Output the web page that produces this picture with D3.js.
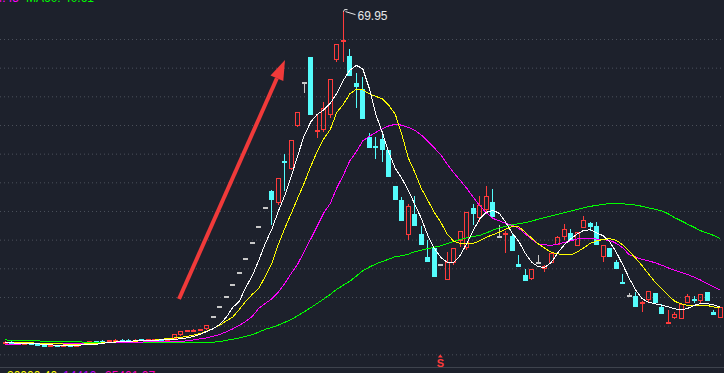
<!DOCTYPE html>
<html>
<head>
<meta charset="utf-8">
<script src="https://cdn.jsdelivr.net/npm/d3@7"></script>
<style>
  html, body { margin: 0; padding: 0; background: #1d212c; overflow: hidden; }
  svg { display: block; }
</style>
</head>
<body>
<div id="chart"></div>
<script>
/*global d3*/

// daily candles (price units)
var opens = [
  12.10, 12.20, 12.05, 11.95, 12.00, 11.80, 11.70, 11.40, 11.55, 11.45,
  11.60, 11.55, 11.70, 11.90, 12.25, 12.40, 12.30, 12.35, 12.55, 12.50,
  12.45, 12.65, 12.55, 12.55, 12.70, 12.60, 12.70, 13.30, 14.10, 14.15,
  14.22, 14.35, 16.56, 18.21, 20.03, 22.04, 24.24, 26.66, 29.33, 32.26,
  35.49, 38.50, 36.40, 43.70, 42.30, 49.80, 57.30, 61.90, 48.90, 49.20,
  51.70, 61.40, 64.70, 62.00, 57.30, 56.20, 47.90, 46.30, 47.50, 45.60,
  39.30, 37.00, 30.75, 34.40, 31.05, 27.00, 28.50, 25.60, 23.00, 25.90,
  29.75, 28.60, 35.50, 33.80, 35.10, 36.60, 30.45, 31.00, 30.60, 25.80,
  23.90, 23.10, 25.90, 24.95, 25.90, 29.10, 30.45, 31.15, 28.90, 32.10,
  32.90, 32.30, 27.00, 28.50, 26.10, 22.55, 20.10, 20.10, 18.95, 19.40,
  20.70, 18.25, 15.55, 16.30, 16.20, 18.95, 19.70, 19.25, 20.90, 17.30, 16.40
];
var highs = [
  12.25, 12.25, 12.15, 12.05, 12.05, 11.90, 11.80, 11.60, 11.65, 11.65,
  11.70, 11.75, 11.95, 12.30, 12.35, 12.50, 12.50, 12.65, 12.65, 12.60,
  12.60, 12.70, 12.70, 12.75, 12.75, 12.75, 13.55, 14.10, 14.30, 14.35,
  14.45, 15.10, 16.56, 18.21, 20.03, 22.04, 24.24, 26.66, 29.33, 32.26,
  35.49, 38.60, 40.80, 44.90, 47.45, 52.20, 57.30, 61.90, 52.00, 54.00,
  58.10, 64.10, 69.95, 63.20, 59.10, 58.40, 48.60, 47.90, 48.20, 45.60,
  39.30, 37.40, 36.30, 37.60, 32.30, 29.90, 28.50, 25.60, 27.80, 28.60,
  31.50, 34.80, 36.30, 37.70, 39.30, 38.90, 32.60, 31.45, 31.10, 27.40,
  24.90, 24.90, 27.30, 25.50, 27.70, 30.60, 32.70, 31.80, 31.30, 34.20,
  33.10, 33.10, 29.00, 28.50, 26.50, 23.95, 20.70, 20.90, 19.35, 21.00,
  20.70, 18.80, 17.80, 17.40, 18.70, 20.45, 20.10, 20.60, 20.90, 17.75, 18.25
];
var lows = [
  12.05, 12.00, 11.90, 11.85, 11.75, 11.65, 11.50, 11.35, 11.40, 11.40,
  11.50, 11.50, 11.65, 11.85, 12.15, 12.30, 12.25, 12.30, 12.45, 12.40,
  12.40, 12.50, 12.50, 12.50, 12.55, 12.55, 12.65, 13.25, 14.05, 14.10,
  14.15, 14.30, 16.56, 18.21, 20.03, 22.04, 24.24, 26.66, 29.33, 32.26,
  35.49, 32.50, 36.00, 38.50, 42.20, 49.60, 55.50, 51.80, 47.80, 48.80,
  51.30, 61.00, 61.00, 58.50, 52.90, 51.10, 45.90, 44.10, 43.50, 41.00,
  36.90, 33.20, 30.00, 32.30, 29.00, 26.10, 23.50, 25.60, 23.00, 25.50,
  28.70, 28.20, 32.50, 33.10, 34.50, 33.90, 30.45, 27.60, 28.00, 25.20,
  22.70, 22.90, 25.90, 24.35, 25.90, 29.00, 29.90, 29.90, 28.90, 32.00,
  31.50, 29.00, 26.10, 27.00, 24.80, 22.50, 20.10, 18.25, 17.40, 19.20,
  18.95, 17.10, 15.55, 16.20, 16.20, 18.95, 18.90, 18.90, 19.25, 16.90, 16.40
];
var closes = [
  12.20, 12.05, 11.95, 12.00, 11.80, 11.70, 11.55, 11.55, 11.45, 11.60,
  11.55, 11.70, 11.90, 12.25, 12.20, 12.35, 12.45, 12.55, 12.50, 12.45,
  12.55, 12.55, 12.60, 12.70, 12.60, 12.70, 13.50, 14.05, 14.25, 14.30,
  14.38, 15.05, 16.56, 18.21, 20.03, 22.04, 24.24, 26.66, 29.33, 32.26,
  35.49, 37.00, 40.80, 43.30, 47.45, 52.20, 57.30, 51.80, 49.20, 52.95,
  58.10, 64.10, 64.90, 58.50, 56.60, 51.10, 45.90, 46.20, 45.60, 41.00,
  36.90, 33.20, 35.80, 32.30, 29.00, 26.10, 23.50, 25.60, 26.10, 28.60,
  31.45, 34.80, 34.50, 36.00, 37.70, 33.90, 30.45, 31.15, 28.00, 25.20,
  22.70, 24.90, 25.90, 25.35, 27.70, 30.45, 31.90, 29.90, 31.30, 33.50,
  32.20, 29.00, 29.00, 27.00, 24.80, 22.50, 20.10, 18.25, 19.05, 21.00,
  18.95, 17.10, 15.70, 17.00, 18.70, 20.10, 19.40, 20.60, 19.25, 16.90, 18.25
];

// moving average lines as drawn in the picture
var ma5 = [
  12.00, 12.00, 11.91, 11.91, 11.86, 11.83, 11.74, 11.65, 11.57, 11.57,
  11.57, 11.57, 11.65, 11.69, 11.74, 11.91, 12.09, 12.14, 12.21, 12.26,
  12.35, 12.44, 12.44, 12.44, 12.52, 12.61, 12.61, 12.70, 12.87, 13.13,
  13.48, 14.00, 14.47, 15.23, 16.45, 18.19, 19.24, 21.68, 23.71, 26.39,
  29.36, 31.80, 34.94, 37.73, 41.04, 44.71, 48.19, 50.55, 51.86, 52.64,
  53.78, 55.52, 57.79, 59.53, 60.41, 59.79, 56.39, 51.86, 48.72, 45.23,
  42.44, 40.70, 38.60, 36.16, 33.72, 30.75, 28.48, 26.91, 26.04, 26.04,
  27.26, 29.36, 31.62, 33.63, 34.76, 35.11, 34.59, 33.02, 31.10, 29.71,
  27.61, 26.04, 25.26, 25.17, 26.04, 27.70, 29.09, 30.14, 31.01, 31.62,
  31.71, 31.19, 30.66, 29.62, 27.79, 25.61, 23.25, 21.16, 19.68, 19.07,
  18.80, 18.58, 18.28, 17.93, 17.72, 18.02, 18.54, 18.84, 18.84, 18.63, 18.24
];
var ma10 = [
  12.09, 12.09, 12.05, 12.02, 11.98, 11.95, 11.91, 11.86, 11.83, 11.79,
  11.77, 11.77, 11.79, 11.83, 11.88, 12.00, 12.09, 12.17, 12.23, 12.26,
  12.30, 12.35, 12.40, 12.49, 12.61, 12.73, 12.84, 12.96, 13.13, 13.34,
  13.62, 14.04, 14.53, 15.05, 15.84, 16.48, 17.84, 19.24, 20.46, 21.51,
  23.60, 25.87, 29.18, 31.97, 34.59, 37.29, 39.91, 42.79, 45.40, 47.58,
  49.24, 52.21, 53.60, 55.43, 56.22, 56.13, 55.43, 55.00, 54.56, 53.43,
  51.86, 48.37, 44.27, 41.74, 38.95, 36.86, 34.76, 33.02, 30.93, 29.71,
  29.36, 29.30, 29.36, 29.79, 30.44, 30.84, 31.31, 31.83, 32.32, 32.23,
  31.27, 30.23, 29.27, 28.49, 27.79, 27.52, 27.35, 27.33, 27.87, 28.57,
  29.36, 29.79, 30.05, 30.17, 29.88, 29.09, 27.96, 26.74, 25.43, 23.95,
  22.55, 21.42, 20.29, 19.24, 18.79, 18.54, 18.54, 18.54, 18.51, 18.25, 18.25
];
var ma20 = [
  11.65, 11.70, 11.77, 11.83, 11.86, 11.86, 11.86, 11.86, 11.86, 11.88,
  11.90, 11.91, 11.91, 11.93, 11.95, 11.97, 11.98, 12.00, 12.04, 12.07,
  12.11, 12.14, 12.16, 12.18, 12.19, 12.21, 12.23, 12.26, 12.35, 12.52,
  12.70, 12.87, 13.13, 13.48, 13.92, 14.44, 15.05, 15.75, 16.62, 18.02,
  18.89, 19.67, 20.81, 22.38, 24.12, 25.78, 27.96, 30.14, 32.41, 34.68,
  36.33, 39.04, 41.22, 43.75, 45.32, 47.24, 48.02, 48.72, 49.33, 49.85,
  50.11, 49.97, 49.59, 49.07, 48.25, 47.15, 46.01, 44.79, 43.14, 41.65,
  40.34, 38.95, 37.38, 35.90, 34.68, 33.72, 33.28, 32.85, 32.50, 31.97,
  31.01, 30.05, 29.27, 29.09, 29.01, 29.23, 29.50, 29.79, 30.14, 30.28,
  30.28, 30.09, 29.97, 29.88, 29.36, 28.57, 27.35, 26.95, 26.57, 26.30,
  25.95, 25.55, 25.07, 24.65, 24.30, 23.90, 23.46, 22.94, 22.29, 21.75, 21.17
];
var ma60 = [
  12.51, 12.44, 12.40, 12.37, 12.35, 12.33, 12.30, 12.26, 12.24, 12.21,
  12.19, 12.16, 12.14, 12.09, 12.07, 12.05, 12.04, 12.02, 12.00, 12.00,
  12.00, 12.00, 12.00, 12.00, 12.00, 12.00, 12.00, 12.00, 12.00, 12.04,
  12.05, 12.09, 12.12, 12.21, 12.44, 12.61, 12.84, 13.13, 13.43, 13.88,
  14.36, 14.67, 15.09, 15.58, 16.05, 16.74, 17.42, 18.14, 18.89, 19.64,
  20.46, 21.33, 22.07, 22.73, 23.64, 24.59, 25.20, 25.76, 26.18, 26.60,
  27.04, 27.19, 27.47, 27.89, 28.17, 28.43, 28.69, 28.92, 29.30, 29.67,
  30.05, 30.32, 30.54, 30.75, 31.17, 31.66, 32.04, 32.32, 32.60, 32.77,
  32.97, 33.23, 33.58, 33.86, 34.15, 34.41, 34.69, 34.97, 35.27, 35.57,
  35.81, 35.98, 36.16, 36.28, 36.28, 36.25, 36.16, 36.02, 35.81, 35.53,
  35.29, 35.01, 34.50, 33.82, 33.28, 32.69, 32.13, 31.55, 31.14, 30.72, 30.14
];

var gridPrices = [10, 15, 20, 25, 30, 35, 40, 45, 50, 55, 60, 65];
var peakIndex = 52, peakLabel = "69.95";
var markIndex = 67, markLabel = "S";
var topLegend = [{text: "MA20: 44.45", color: "#ff00ff"}, {text: "MA60: 40.61", color: "#00ff00"}];
var bottomLegend = [{text: "20000.40", color: "#ffff00"}, {text: "14410", color: "#c000ff"}, {text: "25401.07", color: "#ff00c0"}];

var RED = "#ff3b3b", CYAN = "#54fcfc", GRAY = "#c8c8c8";
var W = 724, H = 373;

var x = d3.scaleLinear().domain([0, 110]).range([5.3, 720.3]);
var y = d3.scaleLinear().domain([10, 65]).range([354.3, 39]);

var svg = d3.select("#chart")
    .append("svg")
    .attr("width", W)
    .attr("height", H)
    .style("font-family", "'Liberation Sans', Arial, sans-serif");

svg.append("rect").attr("width", W).attr("height", H).attr("fill", "#1d212c");

// dotted horizontal grid
var grid = svg.append("g")
    .call(d3.axisLeft(y).tickValues(gridPrices).tickSize(-W).tickFormat(""));
grid.select(".domain").remove();
grid.selectAll(".tick line")
    .attr("stroke", "#4b505b")
    .attr("stroke-dasharray", "1,3");

// bottom separator
svg.append("line")
    .attr("x1", 0).attr("x2", W)
    .attr("y1", 367.5).attr("y2", 367.5)
    .attr("stroke", "#3e434d");

// candles
var data = d3.range(closes.length).map(function(i) {
  return {i: i, o: opens[i], h: highs[i], l: lows[i], c: closes[i]};
});
function kind(d) {
  if (Math.abs(d.c - d.o) < 0.005) return "doji";
  return d.c > d.o ? "up" : "down";
}
function colorOf(d) {
  var k = kind(d);
  return k == "up" ? RED : k == "down" ? CYAN : GRAY;
}

var candles = svg.append("g").attr("shape-rendering", "crispEdges")
  .selectAll("g")
  .data(data)
  .join("g");

candles.each(function(d) {
  var g = d3.select(this);
  var left = Math.round(x(d.i) - 2.5), cx = left + 2.5;
  var col = colorOf(d), k = kind(d);
  var yt = Math.round(y(Math.max(d.o, d.c))), yb = Math.round(y(Math.min(d.o, d.c)));
  var yh = Math.round(y(d.h)), yl = Math.round(y(d.l));
  if (yh < yt) g.append("line").attr("x1", cx).attr("x2", cx).attr("y1", yh).attr("y2", yt).attr("stroke", col);
  if (yl > yb) g.append("line").attr("x1", cx).attr("x2", cx).attr("y1", yb).attr("y2", yl).attr("stroke", col);
  if (k == "doji") {
    g.append("rect").attr("x", left).attr("y", yt - 1).attr("width", 5).attr("height", 2).attr("fill", col);
  } else if (k == "down" || yb - yt < 3) {
    g.append("rect").attr("x", left).attr("y", yt).attr("width", 5).attr("height", Math.max(yb - yt, 2)).attr("fill", col);
  } else {
    g.append("rect").attr("x", left + 0.5).attr("y", yt + 0.5).attr("width", 4).attr("height", yb - yt - 1)
      .attr("fill", "none").attr("stroke", col);
  }
});

// moving averages
var maLine = d3.line().x(function(v, i) { return x(i); }).y(function(v) { return y(v); });
[[ma60, "#00ff00"], [ma20, "#ff00ff"], [ma10, "#ffff00"], [ma5, "#ffffff"]].forEach(function(s) {
  svg.append("path")
    .datum(s[0])
    .attr("fill", "none")
    .attr("stroke", s[1])
    .attr("stroke-width", 1)
    .attr("shape-rendering", "crispEdges")
    .attr("d", maLine);
});

// peak label
var px = Math.round(x(peakIndex) - 2.5) + 2.5, py = y(highs[peakIndex]);
svg.append("path")
  .attr("d", "M" + (px + 4) + "," + (py - 1) + " L" + (px + 1) + "," + (py - 1) + " L" + px + "," + (py + 1)
        + " M" + (px + 2) + "," + (py + 1) + " L" + (px + 12) + "," + (py + 4))
  .attr("fill", "none").attr("stroke", "#e8e8e8");
svg.append("text")
  .attr("x", px + 14).attr("y", py + 9)
  .attr("fill", "#e8e8e8").attr("font-size", 12)
  .text(peakLabel);

// red arrow
var tail = [179, 299], tip = [285, 60];
var dx = tip[0] - tail[0], dy = tip[1] - tail[1], len = Math.sqrt(dx * dx + dy * dy);
var ux = dx / len, uy = dy / len, nx = -uy, ny = ux;
var bx = tip[0] - 20 * ux, by = tip[1] - 20 * uy;
svg.append("line")
  .attr("x1", tail[0]).attr("y1", tail[1]).attr("x2", bx).attr("y2", by)
  .attr("stroke", "#f03a3a").attr("stroke-width", 4);
svg.append("path")
  .attr("d", d3.line()([tip, [bx + 7 * nx, by + 7 * ny], [bx - 7 * nx, by - 7 * ny]]) + "Z")
  .attr("fill", "#f03a3a");

// S marker
var mx = x(markIndex) - 0.5;
svg.append("path")
  .attr("d", d3.line()([[mx - 2.5, 357.5], [mx + 2.5, 357.5], [mx, 354.5]]) + "Z")
  .attr("fill", RED);
svg.append("text")
  .attr("x", mx).attr("y", 366.5)
  .attr("text-anchor", "middle")
  .attr("fill", RED).attr("font-size", 11).attr("font-weight", "bold")
  .text(markLabel);

// legends cut off at the edges
svg.append("text").attr("x", 19).attr("y", 2).attr("text-anchor", "end")
  .attr("fill", topLegend[0].color).attr("font-size", 12).text(topLegend[0].text);
svg.append("text").attr("x", 26).attr("y", 2)
  .attr("fill", topLegend[1].color).attr("font-size", 12).text(topLegend[1].text);
var bx0 = [7, 63, 105];
bottomLegend.forEach(function(t, i) {
  svg.append("text").attr("x", bx0[i]).attr("y", 379.5)
    .attr("fill", t.color).attr("font-size", 12).text(t.text);
});
</script>
</body>
</html>
